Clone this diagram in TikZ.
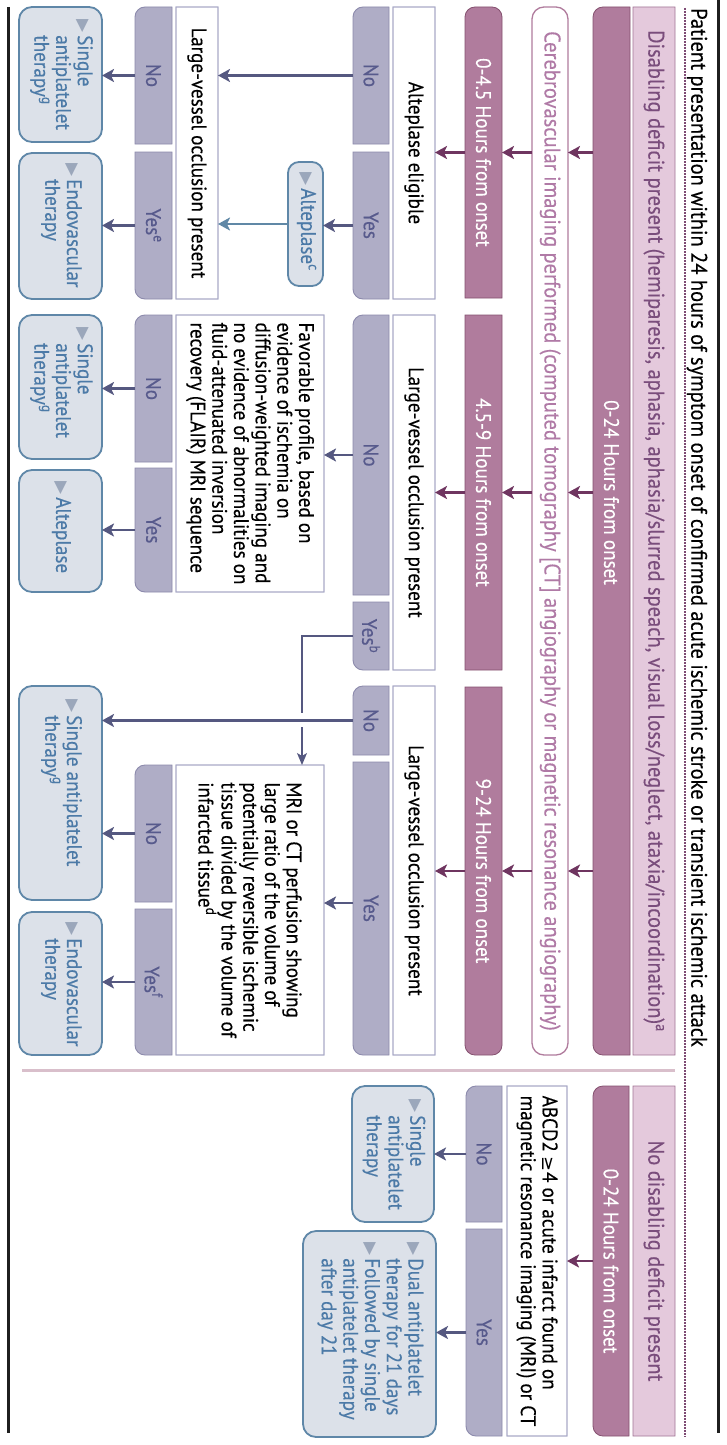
\documentclass[tikz,border=0pt]{standalone}
\usepackage{fontspec}
\setmainfont{PT Sans}[FakeStretch=0.91,FakeBold=0.35]
\newfontfamily\sym{DejaVu Sans}
\usetikzlibrary{fit,arrows.meta}
\definecolor{pinkL}{HTML}{E4C9DC}
\definecolor{pinkLD}{HTML}{A27596}
\definecolor{pinkD}{HTML}{B07C9D}
\definecolor{pinkDD}{HTML}{84506F}
\definecolor{hdrT}{HTML}{7A4D7C}
\definecolor{cerT}{HTML}{B07AA6}
\definecolor{cArrP}{HTML}{6F3560}
\definecolor{tabF}{HTML}{AFADC6}
\definecolor{tabD}{HTML}{8C8AAC}
\definecolor{tabT}{HTML}{575A8C}
\definecolor{qD}{HTML}{A9AAC7}
\definecolor{oF}{HTML}{DCE1E9}
\definecolor{oD}{HTML}{5F87A8}
\definecolor{oT}{HTML}{4C7AA7}
\definecolor{triC}{HTML}{9BA7BB}
\definecolor{cArrB}{HTML}{555880}
\definecolor{cArrB2}{HTML}{6088A6}
\definecolor{sepC}{HTML}{D9BFCB}
\definecolor{dotC}{HTML}{7E4B74}
\newcommand\tri{\textcolor{triC}{\sym\fontsize{17}{17}\selectfont ▶}}
\newcommand\bx[8]{%
  \def\mskA##1##2##3##4{\def\rTL{##1}\def\rTR{##2}\def\rBR{##3}\def\rBL{##4}}%
  \mskA#7%
  \pgfmathsetmacro\rTL{max(\rTL*#8,0.01)}%
  \pgfmathsetmacro\rTR{max(\rTR*#8,0.01)}%
  \pgfmathsetmacro\rBR{max(\rBR*#8,0.01)}%
  \pgfmathsetmacro\rBL{max(\rBL*#8,0.01)}%
  \draw[#2] (#3,-#6+\rBL) -- (#3,-#4-\rTL) arc[start angle=180,end angle=90,radius=\rTL pt] -- (#5-\rTR,-#4) arc[start angle=90,end angle=0,radius=\rTR pt] -- (#5,-#6+\rBR) arc[start angle=0,end angle=-90,radius=\rBR pt] -- (#3+\rBL,-#6) arc[start angle=-90,end angle=-180,radius=\rBL pt] -- cycle;%
  \node[fit={(#3,-#4) (#5,-#6)}, inner sep=0pt, outer sep=0pt] (#1) {};%
}
\tikzset{
  hdrbox/.style={fill=pinkL, draw=pinkLD, line width=0.8pt},
  darkbox/.style={fill=pinkD, draw=pinkDD, line width=0.8pt},
  cerbox/.style={fill=white, draw=pinkD, line width=1.3pt},
  tabbox/.style={fill=tabF, draw=tabD, line width=0.9pt},
  qbox/.style={fill=white, draw=qD, line width=1.3pt},
  obox/.style={fill=oF, draw=oD, line width=1.8pt},
  bt/.style={rotate=-90, inner sep=0pt, font=\fontsize{21}{21.7}\selectfont, align=left},
  ht/.style={bt, font=\fontsize{22.5}{24}\selectfont},
  wt/.style={bt, text=white},
  tt/.style={bt, text=tabT},
  ot/.style={bt, text=oT, anchor=west},
  arrP/.style={draw=cArrP, line width=2.6pt, -{Stealth[length=12pt,width=13pt,inset=3pt]}},
  arrB/.style={draw=cArrB, line width=2.6pt, -{Stealth[length=12pt,width=13pt,inset=3pt]}},
  arrB2/.style={draw=cArrB2, line width=2.6pt, -{Stealth[length=12pt,width=13pt,inset=3pt]}},
  thinB/.style={draw=cArrB, line width=1.2pt},
}
\newcommand\otab[1]{\begin{tabular}{@{}l@{\hspace{3pt}}l@{}}#1\end{tabular}}
\begin{document}
\begin{tikzpicture}[x=1pt,y=1pt]
\useasboundingbox (0,0) rectangle (727,-1445);
\fill[white] (0,0) rectangle (727,-1445);
% frame lines
\draw[line width=3pt, black!88] (718.5,0) -- (718.5,-1433);
\draw[line width=2.6pt, black!88] (8.5,-7) -- (8.5,-1433);
\draw[dotC, line width=1.2pt, dash pattern=on 1.6pt off 1.4pt] (685,-8) -- (685,-1437);
\node[rotate=-90, anchor=west, inner sep=0pt, font=\fontsize{22.5}{24}\selectfont] (title) at (697,-8)
  {Patient presentation within 24 hours of symptom onset of confirmed acute ischemic stroke or transient ischemic attack};
% separator
\draw[sepC, line width=3pt] (22,-1070) -- (675,-1070);

% ===== top section: disabling deficit =====
\bx{hdr}{hdrbox}{633}{7}{675}{1055}{0000}{1}
\bx{z24}{darkbox}{593}{7}{630}{1055}{1001}{10}
\bx{cereb}{cerbox}{532}{7}{568}{1055}{1111}{12}
\bx{t045}{darkbox}{465}{7}{502}{298}{1100}{10}
\bx{t459}{darkbox}{465}{315}{502}{670}{0000}{1}
\bx{t924}{darkbox}{465}{687}{502}{1055}{0011}{10}
\node[ht, text=hdrT] (hdr-t) at (hdr.center) {Disabling deficit present (hemiparesis, aphasia, aphasia/slurred speach, visual loss/neglect, ataxia/incoordination)\textsuperscript{a}};
\node[wt] (z24-t) at (z24.center |- t459.center) {0-24 Hours from onset};
\node[ht, text=cerT] (cereb-t) at (cereb.center) {Cerebrovascular imaging performed (computed tomography [CT] angiography or magnetic resonance angiography)};
\node[wt] (t045-t) at (t045.center) {0-4.5 Hours from onset};
\node[wt] (t459-t) at (t459.center) {4.5-9 Hours from onset};
\node[wt] (t924-t) at (t924.center) {9-24 Hours from onset};

% column 0-4.5
\bx{alte}{qbox}{393}{7}{435}{299}{0000}{1}
\bx{no1}{tabbox}{353}{7}{389}{144}{1000}{10}
\bx{yes1}{tabbox}{353}{152}{389}{299}{0001}{10}
\bx{altc}{obox}{288}{162}{323}{286}{1111}{11}
\bx{lvo1}{qbox}{176}{7}{218}{299}{0000}{1}
\bx{no2}{tabbox}{135}{7}{172}{144}{1000}{10}
\bx{yes2}{tabbox}{135}{152}{172}{299}{0001}{10}
\bx{sat1}{obox}{19}{7}{102}{142}{1111}{13}
\bx{endo1}{obox}{19}{153}{102}{299}{1111}{13}
\node[bt] (alte-t) at (alte.center) {Alteplase eligible};
\node[tt] (no1-t) at (no1.center) {No};
\node[tt] (yes1-t) at (yes1.center) {Yes};
\node[ot] (altc-t) at ([yshift=-10pt]altc.north) {\otab{\tri & Alteplase\textsuperscript{c}}};
\node[bt] (lvo1-t) at (lvo1.center) {Large-vessel occlusion present};
\node[tt] (no2-t) at (no2.center) {No};
\node[tt] (yes2-t) at (yes2.center) {Yes\textsuperscript{e}};
\node[ot] (sat1-t) at ([yshift=-12pt]sat1.north) {\otab{\tri & Single\\ & antiplatelet\\ & therapy\textsuperscript{g}}};
\node[ot] (endo1-t) at ([yshift=-10pt]endo1.north) {\otab{\tri & Endovascular\\ & therapy}};

% column 4.5-9
\bx{lvo2}{qbox}{393}{315}{435}{670}{0000}{1}
\bx{no3}{tabbox}{353}{315}{389}{595}{1000}{10}
\bx{yes3}{tabbox}{353}{602}{389}{670}{0001}{10}
\bx{fav}{qbox}{176}{315}{324}{592}{0000}{1}
\bx{no4}{tabbox}{135}{315}{172}{462}{1000}{10}
\bx{yes4}{tabbox}{135}{468}{172}{592}{0001}{10}
\bx{sat2}{obox}{19}{315}{102}{459}{1111}{13}
\bx{alt2}{obox}{19}{470}{102}{592}{1111}{13}
\node[bt] (lvo2-t) at (lvo2.center) {Large-vessel occlusion present};
\node[tt] (no3-t) at (no3.center) {No};
\node[tt] (yes3-t) at (yes3.center) {Yes\textsuperscript{b}};
\node[bt] (fav-t) at (fav.center) {Favorable profile, based on\\evidence of ischemia on\\diffusion-weighted imaging and\\no evidence of abnormalities on\\fluid-attenuated inversion\\recovery (FLAIR) MRI sequence};
\node[tt] (no4-t) at (no4.center) {No};
\node[tt] (yes4-t) at (yes4.center) {Yes};
\node[ot] (sat2-t) at ([yshift=-12pt]sat2.north) {\otab{\tri & Single\\ & antiplatelet\\ & therapy\textsuperscript{g}}};
\node[ot] (alt2-t) at ([yshift=-11pt]alt2.north) {\otab{\tri & Alteplase}};

% column 9-24
\bx{lvo3}{qbox}{393}{686}{435}{1055}{0000}{1}
\bx{no5}{tabbox}{353}{686}{389}{755}{1000}{10}
\bx{yes5}{tabbox}{353}{762}{389}{1055}{0001}{10}
\bx{sat3}{obox}{19}{686}{102}{900}{1111}{13}
\bx{mri}{qbox}{176}{765}{324}{1055}{0000}{1}
\bx{no6}{tabbox}{135}{765}{172}{902}{1000}{10}
\bx{yes6}{tabbox}{135}{909}{172}{1055}{0001}{10}
\bx{endo3}{obox}{19}{912}{102}{1055}{1111}{13}
\node[bt] (lvo3-t) at (lvo3.center) {Large-vessel occlusion present};
\node[tt] (no5-t) at (no5.center) {No};
\node[tt] (yes5-t) at (yes5.center) {Yes};
\node[ot] (sat3-t) at ([yshift=-13pt]sat3.north) {\otab{\tri & Single antiplatelet\\ & therapy\textsuperscript{g}}};
\node[bt] (mri-t) at (mri.center) {MRI or CT perfusion showing\\large ratio of the volume of\\potentially reversible ischemic\\tissue divided by the volume of\\infarcted tissue\textsuperscript{d}};
\node[tt] (no6-t) at (no6.center) {No};
\node[tt] (yes6-t) at (yes6.center) {Yes\textsuperscript{f}};
\node[ot] (endo3-t) at ([yshift=-10pt]endo3.north) {\otab{\tri & Endovascular\\ & therapy}};

% ===== bottom section: no disabling deficit =====
\bx{hdr2}{hdrbox}{633}{1086}{675}{1436}{0000}{1}
\bx{z24b}{darkbox}{593}{1086}{629}{1436}{1001}{10}
\bx{abcd}{qbox}{507}{1086}{567}{1436}{0000}{1}
\bx{no7}{tabbox}{466}{1086}{502}{1222}{1000}{10}
\bx{yes7}{tabbox}{466}{1229}{502}{1436}{0001}{10}
\bx{sat4}{obox}{352}{1086}{434}{1222}{1111}{13}
\bx{dual}{obox}{303}{1231}{436}{1437}{1111}{13}
\node[ht, text=hdrT] (hdr2-t) at (hdr2.center) {No disabling deficit present};
\node[wt] (z24b-t) at (z24b.center) {0-24 Hours from onset};
\node[bt] (abcd-t) at (abcd.center) {ABCD2 {\sym\fontsize{18}{18}\selectfont ≥}4 or acute infarct found on\\magnetic resonance imaging (MRI) or CT};
\node[tt] (no7-t) at (no7.center) {No};
\node[tt] (yes7-t) at (yes7.center) {Yes};
\node[ot] (sat4-t) at ([yshift=-13pt]sat4.north) {\otab{\tri & Single\\ & antiplatelet\\ & therapy}};
\node[ot] (dual-t) at ([yshift=-11pt]dual.north) {\otab{\tri & Dual antiplatelet\\ & therapy for 21 days\\ \tri & Followed by single\\ & antiplatelet therapy\\ & after day 21}};

% ===== connectors =====
\foreach \t/\q in {t045/alte, t459/lvo2, t924/lvo3}{
  \draw[arrP] (z24.west |- \t.center) -- (cereb.east |- \t.center);
  \draw[arrP] (cereb.west |- \t.center) -- (\t.east);
  \draw[arrP] (\t.west) -- (\t.west -| \q.east);
}
\draw[arrP] (z24b.west) -- (abcd.east);
% 0-4.5
\draw[arrB] (no1.west) -- (no1.west -| lvo1.east);
\draw[arrB] (yes1.west) -- (yes1.west -| altc.east);
\draw[arrB2] (altc.west) -- (altc.west -| lvo1.east);
\draw[arrB] (no2.west) -- (no2.west -| sat1.east);
\draw[arrB] (yes2.west) -- (yes2.west -| endo1.east);
% 4.5-9
\draw[arrB] (no3.west) -- (no3.west -| fav.east);
\draw[arrB] (no4.west) -- (no4.west -| sat2.east);
\draw[arrB] (yes4.west) -- (yes4.west -| alt2.east);
\coordinate (gA) at (302,-713);
\coordinate (gB) at (302,-727);
\draw[thinB] (yes3.west) -| (gA);
\draw[thinB, -{Stealth[length=12pt,width=10pt,inset=3pt]}] (gB) -- (gB |- mri.north);
% 9-24
\draw[arrB] (no5.west) -- (no5.west -| sat3.east);
\draw[arrB] (yes5.west |- 0,-903) -- (mri.east |- 0,-903);
\draw[arrB] (no6.west) -- (no6.west -| sat3.east);
\draw[arrB] (yes6.west) -- (yes6.west -| endo3.east);
% bottom
\draw[arrB] (no7.west) -- (no7.west -| sat4.east);
\draw[arrB] (yes7.west) -- (yes7.west -| dual.east);
\end{tikzpicture}
\end{document}
